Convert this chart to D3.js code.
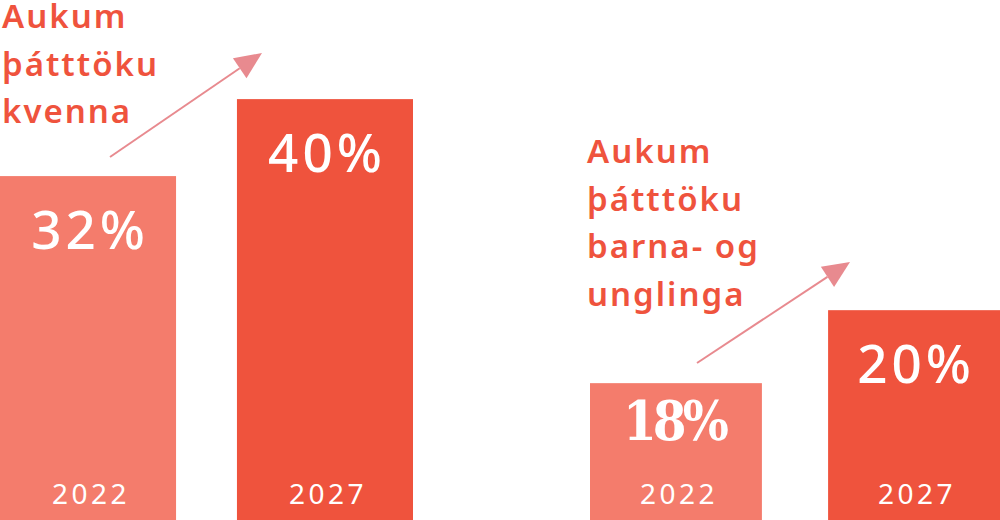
<!DOCTYPE html>
<html><head><meta charset="utf-8">
<script src="https://cdn.jsdelivr.net/npm/d3@7"></script>
<style>
html,body{margin:0;padding:0;background:#fff;}
svg{display:block;}
</style></head>
<body>
<svg id="c" width="1000" height="520"></svg>
<script>
// ---- data ----
const years = ["2022", "2027"];
const womenValues = [32, 40];
const youthValues = [18, 20];
const womenTitle = ["Aukum", "þátttöku", "kvenna"];
const youthTitle = ["Aukum", "þátttöku", "barna- og", "unglinga"];
const valueLabels1 = ["32%", "40%"];
const valueLabels2 = ["18%", "20%"];

const W = 1000, H = 520;
const colLight = "#F47C6C", colDark = "#EF533D", textCol = "#EF533D", arrowCol = "#E88A8F";
const svg = d3.select("#c");

const groups = [
  {values: womenValues, labels: valueLabels1, title: womenTitle, range: [0, 413], pad: 0.257, domain: [-3.74, 50.3],
   titleX: 2, titleY: 28, arrow: [[110, 157], [262, 53]], serifFirst: false},
  {values: youthValues, labels: valueLabels2, title: youthTitle, range: [590, 1000], pad: 0.278, domain: [14.25, 28.5],
   titleX: 587, titleY: 163, arrow: [[697, 363], [850, 262]], serifFirst: true}
];

groups.forEach(g => {
  const x = d3.scaleBand().domain(years).range(g.range).paddingInner(g.pad).paddingOuter(0);
  const y = d3.scaleLinear().domain(g.domain).range([H, 0]);
  const G = svg.append("g");
  const data = years.map((yr, i) => ({yr, v: g.values[i], lab: g.labels[i], i}));
  G.selectAll("rect").data(data).join("rect")
    .attr("x", d => x(d.yr)).attr("width", x.bandwidth())
    .attr("y", d => y(d.v)).attr("height", d => H - y(d.v))
    .attr("fill", d => d.i === 0 ? colLight : colDark);
  const serif = d => g.serifFirst && d.i === 0;
  // value labels
  G.selectAll("text.val").data(data).join("text").attr("class", "val")
    .attr("x", d => x(d.yr) + x.bandwidth() / 2 + (serif(d) ? -2 : 2))
    .attr("y", d => y(d.v) + (serif(d) ? 57 : 73))
    .attr("text-anchor", "middle")
    .attr("fill", "#fff")
    .style("font-family", d => serif(d) ? "'DejaVu Serif Condensed', 'DejaVu Serif', serif" : "'Noto Sans', sans-serif")
    .style("font-weight", d => serif(d) ? "bold" : "500")
    .style("font-size", d => serif(d) ? "54px" : "53px")
    .style("letter-spacing", d => serif(d) ? "-4px" : "4px")
    .text(d => d.lab);
  // year labels
  G.selectAll("text.yr").data(data).join("text").attr("class", "yr")
    .attr("x", d => x(d.yr) + x.bandwidth() / 2 + 3)
    .attr("y", 504)
    .attr("text-anchor", "middle")
    .attr("fill", "#fff")
    .style("font-family", "'Noto Sans', sans-serif")
    .style("font-size", "28px")
    .style("letter-spacing", "3.5px")
    .text(d => d.yr);
  // title
  const t = G.append("text").attr("fill", textCol)
    .style("font-family", "'Noto Sans', sans-serif")
    .style("font-weight", "600")
    .style("font-size", "33px")
    .style("letter-spacing", "2px");
  g.title.forEach((line, i) => {
    t.append("tspan").attr("x", g.titleX).attr("y", g.titleY + i * 47.5).text(line);
  });
  // arrow
  const [p0, p1] = g.arrow;
  const ang = Math.atan2(p1[1] - p0[1], p1[0] - p0[0]);
  const L = 27, hw = 12;
  const bx = p1[0] - L * Math.cos(ang), by = p1[1] - L * Math.sin(ang);
  G.append("line").attr("x1", p0[0]).attr("y1", p0[1]).attr("x2", bx).attr("y2", by)
    .attr("stroke", arrowCol).attr("stroke-width", 2);
  G.append("polygon")
    .attr("points", [[p1[0], p1[1]],
      [bx + hw * Math.sin(ang), by - hw * Math.cos(ang)],
      [bx - hw * Math.sin(ang), by + hw * Math.cos(ang)]].map(p => p.join(",")).join(" "))
    .attr("fill", arrowCol);
});
</script>
</body></html>
